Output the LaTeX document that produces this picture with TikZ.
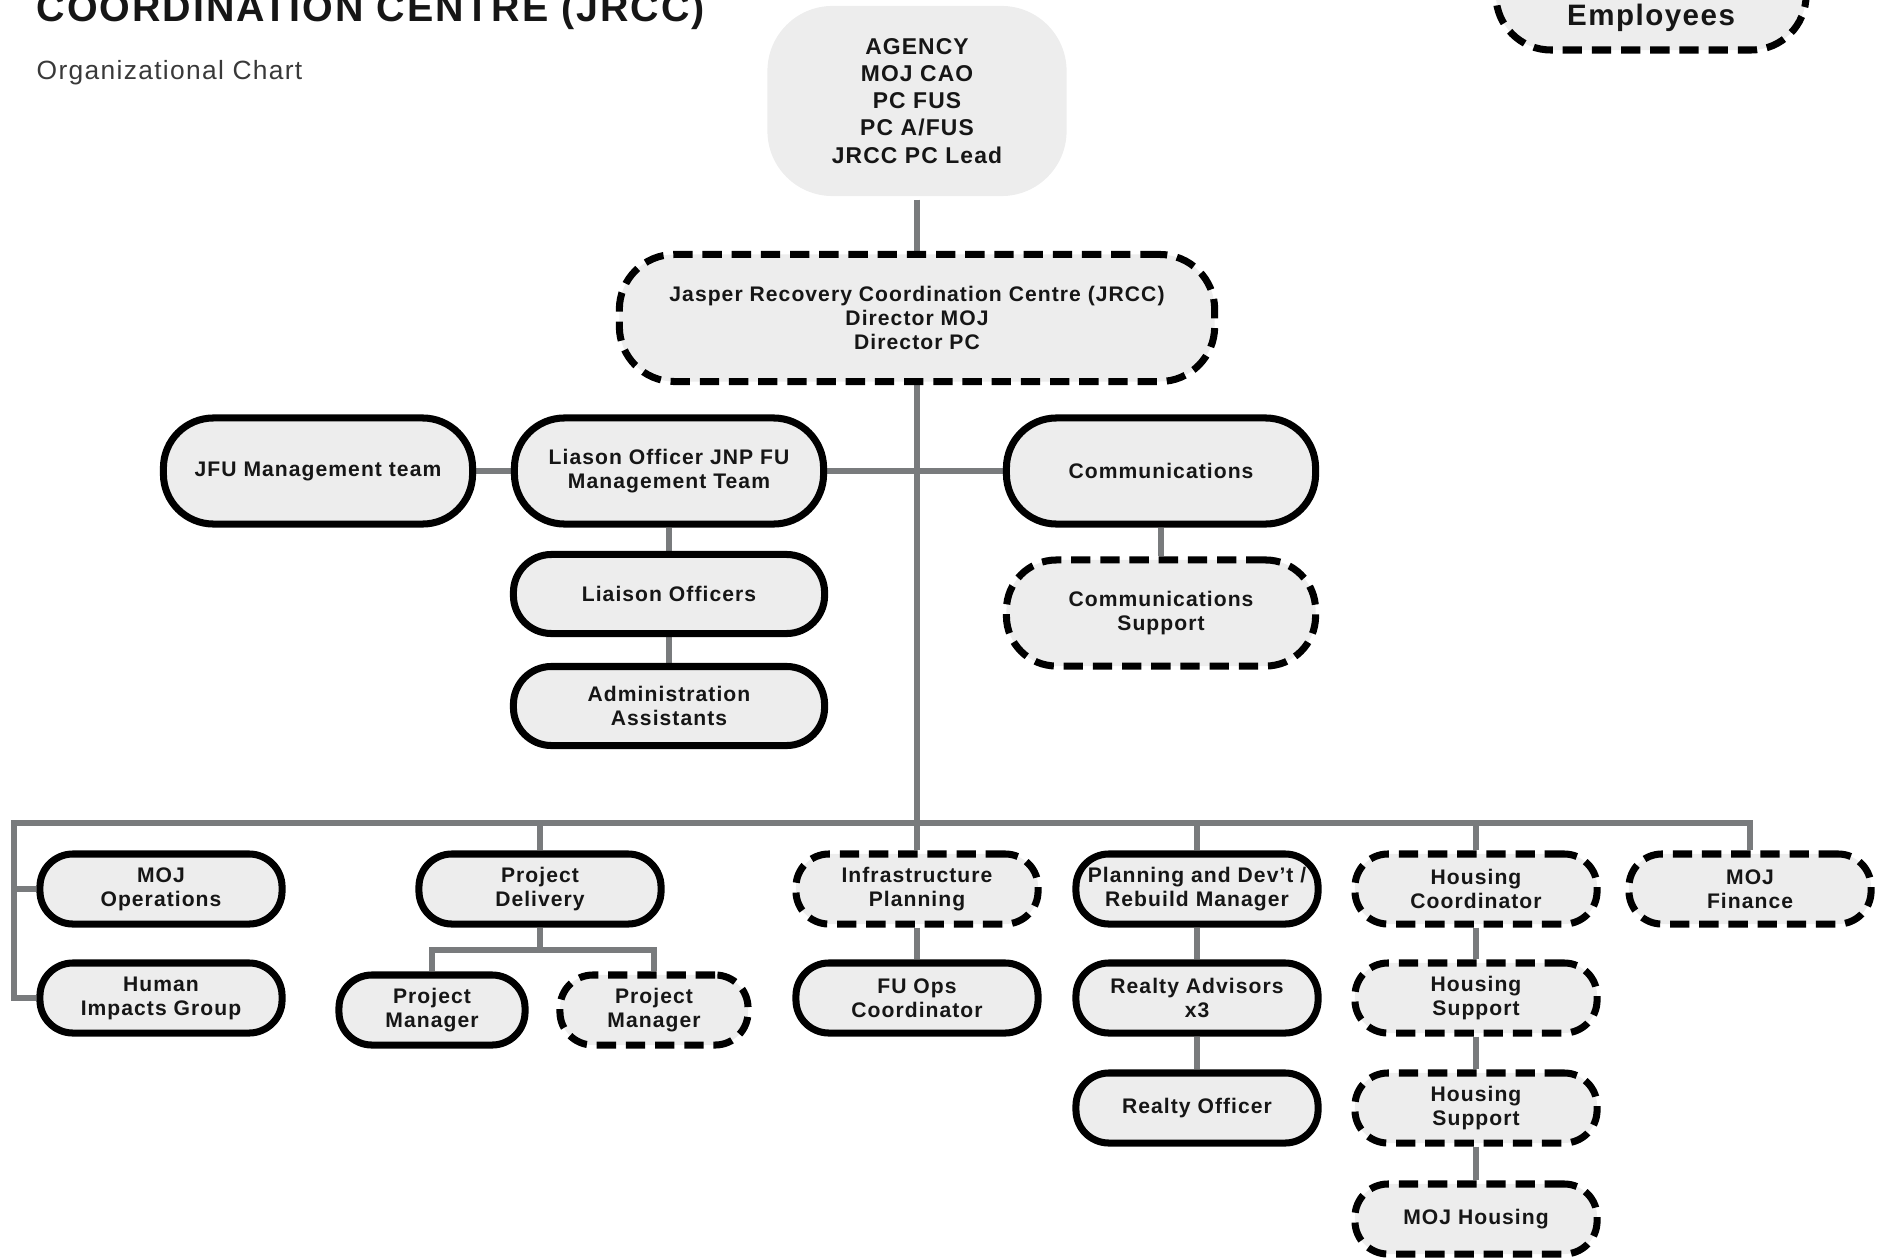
\documentclass[tikz,border=0pt]{standalone}
\usepackage{fontspec}
\setmainfont{Liberation Sans}[LetterSpace=5]
\usetikzlibrary{backgrounds}
\definecolor{boxgrey}{HTML}{EDEDED}
\definecolor{linkgrey}{HTML}{797B7D}
\definecolor{ink}{HTML}{161616}

\begin{document}
\begin{tikzpicture}[x=0.01cm,y=-0.01cm,
	post/.style={draw=black,line width=2pt,fill=boxgrey,rounded corners=0.33cm,align=center,inner sep=0pt,text=ink,
		font=\bfseries\fontsize{6}{6.8}\selectfont,minimum width=2.42cm,minimum height=0.7cm},
	postdash/.style={post,dash pattern=on 5.5pt off 2.8pt},
	big/.style={minimum width=3.09cm,minimum height=1.06cm,rounded corners=0.5cm},
	mid/.style={minimum width=3.11cm,minimum height=0.79cm,rounded corners=0.38cm},
	link/.style={draw=linkgrey,line width=1.6pt}]
			\useasboundingbox (0,0) rectangle (1886,1258);

			\node[anchor=base west,inner sep=0,text=ink,font=\bfseries\fontsize{11.2}{13}\selectfont] (title) at (36,22) {COORDINATION CENTRE (JRCC)};
			\node[anchor=base west,inner sep=0,text=ink!85,font=\fontsize{7.5}{9}\selectfont] (subtitle) at (36,80) {Organizational Chart};
			\node[postdash,anchor=base,font=\bfseries\fontsize{8.4}{10}\selectfont,minimum width=3.1cm,text height=1.1cm,text depth=0.24cm,rounded corners=0.55cm] (legend) at (1651,26) {Employees};

			\node[post,draw=none,minimum width=2.99cm,minimum height=1.9cm,rounded corners=0.65cm,font=\bfseries\fontsize{6.5}{7.7}\selectfont] (agency) at (917,101) {AGENCY\\MOJ CAO\\PC FUS\\PC A/FUS\\JRCC PC Lead};
			\node[postdash,minimum width=5.95cm,minimum height=1.27cm,rounded corners=0.55cm] (jrcc) at (917,318) {Jasper Recovery Coordination Centre (JRCC)\\Director MOJ\\Director PC};

			\node[post,big] (jfu) at (318,471) {JFU Management team};
			\node[post,big] (liason) at (669,471) {Liason Officer JNP FU\\Management Team};
			\node[post,mid] (liaoff) at (669,594) {Liaison Officers};
			\node[post,mid] (admin) at (669,706) {Administration\\Assistants};
			\node[post,big] (comm) at (1161,471) {Communications};
			\node[postdash,big] (commsup) at (1161,613) {Communications\\Support};

			\node[post] (mojops) at (161,889) {MOJ\\Operations};
			\node[post] (human) at (161,998) {Human\\Impacts Group};
			\node[post] (projdel) at (540,889) {Project\\Delivery};
			\node[post,minimum width=1.86cm] (pm1) at (432,1010) {Project\\Manager};
			\node[postdash,minimum width=1.88cm] (pm2) at (654,1010) {Project\\Manager};
			\node[postdash] (infra) at (917,889) {Infrastructure\\Planning};
			\node[post] (fuops) at (917,998) {FU Ops\\Coordinator};
			\node[post] (plan) at (1197,889) {Planning and Dev’t /\\Rebuild Manager};
			\node[post] (realtyadv) at (1197,998) {Realty Advisors\\x3};
			\node[post] (realtyoff) at (1197,1108) {Realty Officer};
			\node[postdash] (housco) at (1476,889) {Housing\\Coordinator};
			\node[postdash] (houssup1) at (1476,998) {Housing\\Support};
			\node[postdash] (houssup2) at (1476,1108) {Housing\\Support};
			\node[postdash] (mojhous) at (1476,1219) {MOJ Housing};
			\node[postdash] (mojfin) at (1750,889) {MOJ\\Finance};

			\coordinate (busL) at (14,823);
			\coordinate (pdsplit) at (540,950);

			\begin{scope}[on background layer]
			\foreach \a/\b in {agency/jrcc,jrcc/infra,jfu/liason,liason/comm,liason/liaoff,liaoff/admin,comm/commsup,
				infra/fuops,plan/realtyadv,realtyadv/realtyoff,housco/houssup1,houssup1/houssup2,houssup2/mojhous,projdel/pdsplit}
			\draw[link] (\a) -- (\b);

			\draw[link] (mojops.west) -| (busL) -| (mojfin.north);
			\draw[link] (human.west) -| (busL);
			\foreach \n in {projdel,plan,housco}
			\draw[link] (\n.north) -- (\n.north |- busL);
			\draw[link] (pm1.north) |- (pdsplit) -| (pm2.north);
			\end{scope}
		\end{tikzpicture}
\end{document}
